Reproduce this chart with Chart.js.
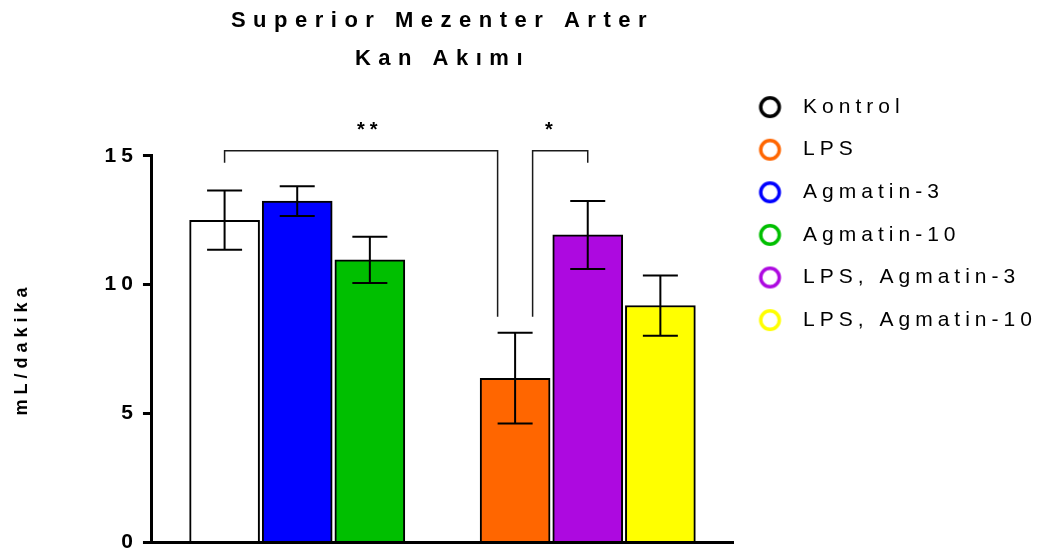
<!DOCTYPE html>
<html>
<head>
    <meta charset="utf-8" />
    <title>Superior Mezenter Arter Kan Akımı</title>
    <script src="https://cdn.jsdelivr.net/npm/chart.js@4.4.1/dist/chart.umd.min.js"></script>
    <style>
        html, body {
            margin: 0;
            padding: 0;
            background: #fff;
            overflow: hidden;
        }
        #chartContainer {
            width: 1049px;
            height: 560px;
        }
    </style>
</head>
<body>
    <div id="chartContainer">
        <canvas id="myChart" width="1049" height="560"></canvas>
    </div>

    <script>
        // groups in bar order (left block, right block)
        const groups = ['Kontrol', 'Agmatin-3', 'Agmatin-10', 'LPS', 'LPS, Agmatin-3', 'LPS, Agmatin-10'];
        const means = [12.5, 13.24, 10.96, 6.37, 11.93, 9.19];      // mL/dakika
        const errors = [1.15, 0.58, 0.9, 1.76, 1.32, 1.17];
        const yTicks = [0, 5, 10, 15];

        const legendOrder = ['Kontrol', 'LPS', 'Agmatin-3', 'Agmatin-10', 'LPS, Agmatin-3', 'LPS, Agmatin-10'];

        // significance brackets
        const comparisons = [
            { from: 'Kontrol', to: 'LPS', label: '**' },
            { from: 'LPS', to: 'LPS, Agmatin-3', label: '*' }
        ];

        // styles
        const fillColors = {
            'Kontrol': '#ffffff',
            'Agmatin-3': '#0000ff',
            'Agmatin-10': '#00bf00',
            'LPS': '#ff6600',
            'LPS, Agmatin-3': '#ad09e0',
            'LPS, Agmatin-10': '#ffff00'
        };
        const ringColors = Object.assign({}, fillColors, { 'Kontrol': '#000000' });
        const FONT = "'Liberation Sans', Arial, sans-serif";
        const CAP = 17.5;

        // blank slots give the gap between the two blocks and the axis ends
        const slots = ['', ...groups.slice(0, 3), '', ...groups.slice(3), ''];
        const slotMeans = slots.map(s => s ? means[groups.indexOf(s)] : null);
        const slotErrors = slots.map(s => s ? errors[groups.indexOf(s)] : null);
        const slotColors = slots.map(s => s ? fillColors[s] : 'transparent');

        function makeRing(color) {
            const c = document.createElement('canvas');
            c.width = 36;
            c.height = 26;
            const g = c.getContext('2d');
            g.strokeStyle = color;
            g.lineWidth = 3.5;
            g.beginPath();
            g.arc(14.4, 13, 9.3, 0, Math.PI * 2);
            g.stroke();
            return c;
        }

        // wide letter spacing like the original export
        const spacingPlugin = {
            id: 'spacing',
            beforeUpdate(chart) { chart.ctx.letterSpacing = '5px'; },
            beforeLayout(chart) { chart.ctx.letterSpacing = '5px'; },
            beforeDraw(chart) {
                chart.ctx.letterSpacing = '5px';
                const block = chart.titleBlock;
                if (block && !block._spaced) {
                    const draw = block.draw.bind(block);
                    block.draw = function () {
                        chart.ctx.save();
                        chart.ctx.letterSpacing = '7.5px';
                        draw();
                        chart.ctx.restore();
                    };
                    block._spaced = true;
                }
            }
        };

        const errorBarPlugin = {
            id: 'errorBars',
            afterDatasetsDraw(chart) {
                const ctx = chart.ctx;
                const y = chart.scales.y;
                const bars = chart.getDatasetMeta(0).data;
                ctx.save();
                ctx.strokeStyle = '#000';
                ctx.lineWidth = 2;
                slotMeans.forEach((m, i) => {
                    if (m == null) return;
                    const px = bars[i].x;
                    const top = y.getPixelForValue(m + slotErrors[i]);
                    const bot = y.getPixelForValue(m - slotErrors[i]);
                    ctx.beginPath();
                    ctx.moveTo(px, top); ctx.lineTo(px, bot);
                    ctx.moveTo(px - CAP, top); ctx.lineTo(px + CAP, top);
                    ctx.moveTo(px - CAP, bot); ctx.lineTo(px + CAP, bot);
                    ctx.stroke();
                });
                ctx.restore();
            }
        };

        const bracketPlugin = {
            id: 'brackets',
            afterDatasetsDraw(chart) {
                const ctx = chart.ctx;
                const xs = chart.scales.x;
                const ys = chart.scales.y;
                const topY = chart.chartArea.top - 5;
                ctx.save();
                ctx.lineWidth = 1.5;
                ctx.strokeStyle = '#1a1a1a';
                ctx.fillStyle = '#000';
                ctx.font = 'bold 20px ' + FONT;
                ctx.textAlign = 'center';
                ctx.textBaseline = 'alphabetic';
                comparisons.forEach(c => {
                    const a = slots.indexOf(c.from);
                    const b = slots.indexOf(c.to);
                    const xa = xs.getPixelForValue(a);
                    const xb = xs.getPixelForValue(b);
                    const ha = slotMeans[a] + slotErrors[a];
                    const hb = slotMeans[b] + slotErrors[b];
                    let x1 = xa, x2 = xb, y1 = topY + 12, y2 = topY + 12;
                    // the lower bar gets the long leg, pulled in by half a cap
                    if (ha < hb) {
                        x1 = xa + CAP;
                        y1 = ys.getPixelForValue(ha) - 16;
                    } else {
                        x2 = xb - CAP;
                        y2 = ys.getPixelForValue(hb) - 16;
                    }
                    ctx.beginPath();
                    ctx.moveTo(x1, y1);
                    ctx.lineTo(x1, topY);
                    ctx.lineTo(x2, topY);
                    ctx.lineTo(x2, y2);
                    ctx.stroke();
                    ctx.fillText(c.label, (xa + xb) / 2, topY - 14.5);
                });
                ctx.restore();
            }
        };

        function renderChart() {
            const ctx = document.getElementById('myChart').getContext('2d');
            Chart.defaults.font.family = FONT;

            myChart = new Chart(ctx, {
                type: 'bar',
                data: {
                    labels: slots,
                    datasets: [{
                        data: slotMeans,
                        backgroundColor: slotColors,
                        borderColor: '#000',
                        borderWidth: 2,
                        borderSkipped: 'start',
                        barThickness: 70
                    }]
                },
                options: {
                    responsive: false,
                    animation: false,
                    layout: { padding: { left: 0, right: 12, top: 0, bottom: 3 } },
                    plugins: {
                        title: {
                            display: true,
                            text: ['Superior Mezenter Arter', 'Kan Akımı'],
                            fullSize: false,
                            color: '#000',
                            font: { family: FONT, size: 22, weight: 'bold', lineHeight: 37.4 / 22 },
                            padding: { top: 2.5, bottom: 78.5 }
                        },
                        legend: {
                            position: 'right',
                            align: 'start',
                            maxWidth: 304,
                            title: { display: true, text: '', font: { size: 10 }, padding: { top: 63, bottom: 0 } },
                            labels: {
                                usePointStyle: true,
                                pointStyleWidth: 38,
                                padding: 21.6,
                                color: '#000',
                                font: { family: FONT, size: 21 },
                                generateLabels: () => legendOrder.map((name, i) => ({
                                    text: name,
                                    pointStyle: makeRing(ringColors[name]),
                                    fillStyle: ringColors[name],
                                    strokeStyle: ringColors[name],
                                    fontColor: '#000',
                                    lineWidth: 0,
                                    hidden: false,
                                    index: i,
                                    datasetIndex: 0
                                }))
                            }
                        },
                        tooltip: { enabled: false }
                    },
                    scales: {
                        x: {
                            offset: false,
                            grid: { display: false, drawTicks: false },
                            ticks: { display: false },
                            border: { color: '#000', width: 3 }
                        },
                        y: {
                            min: yTicks[0],
                            max: yTicks[yTicks.length - 1],
                            afterBuildTicks: scale => { scale.ticks = yTicks.map(v => ({ value: v })); },
                            ticks: {
                                color: '#000',
                                padding: 5,
                                font: { family: FONT, size: 21, weight: 'bold' }
                            },
                            grid: { drawOnChartArea: false, color: '#000', lineWidth: 3, tickLength: 9 },
                            border: { color: '#000', width: 3 },
                            title: {
                                display: true,
                                text: 'mL/dakika',
                                color: '#000',
                                font: { family: FONT, size: 18, weight: 'bold' },
                                padding: { top: 11, bottom: 67 }
                            }
                        }
                    }
                },
                plugins: [spacingPlugin, errorBarPlugin, bracketPlugin]
            });
        }

        let myChart = null;
        window.addEventListener('DOMContentLoaded', renderChart);
    </script>
</body>
</html>
